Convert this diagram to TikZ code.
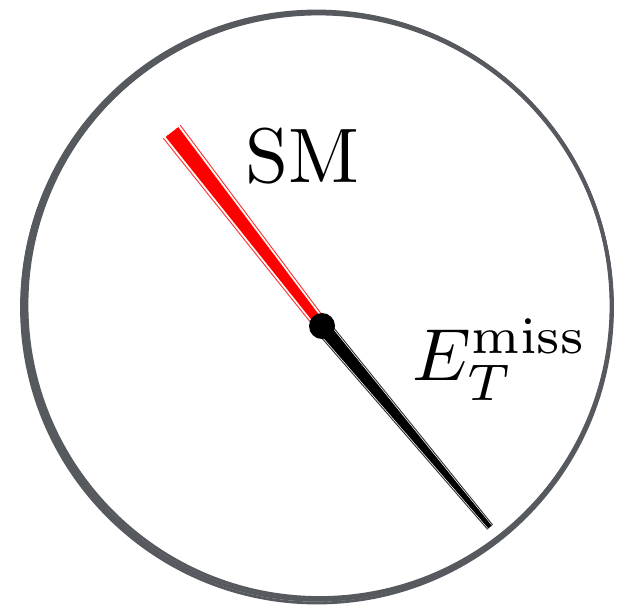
\documentclass[tikz,border=0pt]{standalone}
\usepackage{tikz}
\usetikzlibrary{calc}
\definecolor{rim}{HTML}{56595E}
\definecolor{smred}{HTML}{FF0000}

\tikzset{
  rimstroke/.style={rim,line width=2.4pt},
  brush/.style={line width=0.8pt,line cap=round,opacity=0.8},
}

\begin{document}
\begin{tikzpicture}[x=0.03cm,y=-0.03cm]
  \useasboundingbox (0,0) rectangle (624,606);
  % rough rim: a few circles, each a bit off
  \foreach \dx/\dy/\r in {0/0/294, 1.5/-1/292.5, -1/1.5/295.5, 0.5/1/293, -1.5/-0.5/294.5}
    \draw[rimstroke] (318+\dx,306+\dy) circle[radius=\r];

  \coordinate (o) at (322,326);
  \coordinate (sm) at (172,132);
  \coordinate (met) at (490,527);

  % SM side
  \fill[smred] ($(o)!0.13cm!90:(sm)$) -- ($(sm)!0.24cm!-90:(o)$) -- ($(sm)!0.24cm!90:(o)$) -- ($(o)!0.13cm!-90:(sm)$) -- cycle;
  \foreach \s in {-0.2,-0.1,0.1,0.2}
    \draw[brush,smred] ($(o)!\s*1cm!90:(sm)$) -- ($(sm)!\s*1.6cm!-90:(o)$);

  % missing energy side
  \fill[black] ($(o)!0.2cm!90:(met)$) -- ($(met)!0.06cm!-90:(o)$) -- ($(met)!0.06cm!90:(o)$) -- ($(o)!0.2cm!-90:(met)$) -- cycle;
  \foreach \s in {-0.2,-0.1,0.1,0.2}
    \draw[brush,black] ($(o)!\s*1.2cm!90:(met)$) -- ($(met)!\s*0.5cm!-90:(o)$);

  \fill[black] (o) circle[radius=0.39cm];

  \node (smlab) at (302,156) {\scalebox{6.6}{SM}};
  \node (metlab) at (500,360) {\scalebox{6.3}{$E_T^{\mathrm{miss}}$}};
\end{tikzpicture}
\end{document}
